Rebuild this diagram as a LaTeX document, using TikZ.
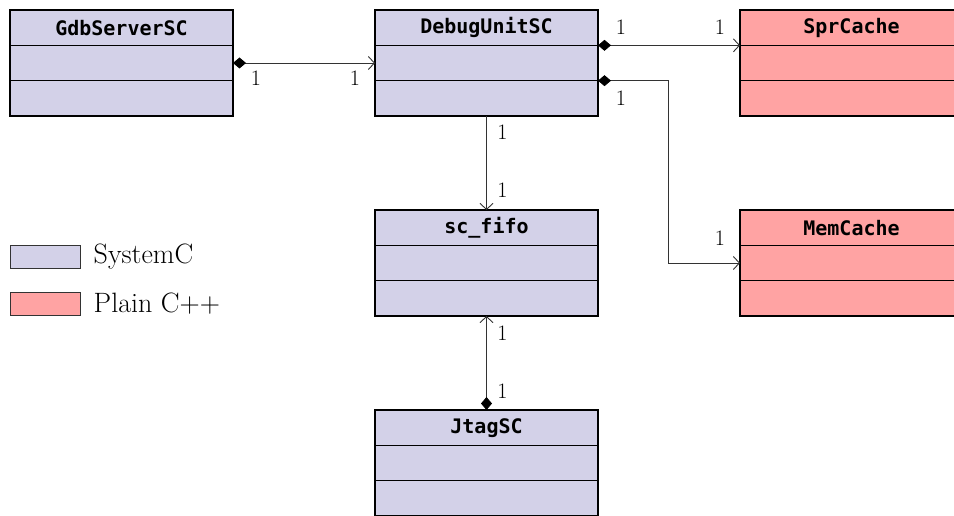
\documentclass[tikz,border=0pt]{standalone}
\usepackage{fontspec}
\newfontfamily\classfont{DejaVu Sans Mono}
\usetikzlibrary{arrows.meta,positioning}

\definecolor{scfill}{RGB}{211,209,232}
\definecolor{cppfill}{RGB}{255,163,163}

\begin{document}
\begin{tikzpicture}[x=1pt, y=-1pt,
  clsbody/.style={
    draw=black, line width=1.2pt,
    fill=#1,
    minimum width=223pt,
    minimum height=35.33pt,
    inner sep=0pt, outer sep=0pt
  },
  clshead/.style={clsbody=#1, font=\fontsize{20}{24}\selectfont\classfont\bfseries},
  assoc/.style={line width=0.9pt, black!80},
  comp/.style={assoc, {Diamond[length=13pt,width=11pt,fill=black,color=black]}-{Straight Barb[length=6pt,width=13pt]}},
  nav/.style={assoc, -{Straight Barb[length=6pt,width=13pt]}},
  mult/.style={font=\fontsize{22}{26}\selectfont, inner sep=0pt, black},
  swatch/.style={draw=black!80, line width=1pt, fill=#1, minimum width=70pt, minimum height=23pt, inner sep=0pt},
  legend/.style={font=\fontsize{28}{32}\selectfont, inner sep=0pt}
]
  \useasboundingbox (0,0) rectangle (954,516);

  % SystemC classes
  \node[clshead=scfill] (gdb) at (121.5,27.67) {GdbServerSC};
  \node[clsbody=scfill, below=0pt of gdb]   (gdb-a) {};
  \node[clsbody=scfill, below=0pt of gdb-a] (gdb-o) {};

  \node[clshead=scfill] (debug) at (486.5,27.67) {DebugUnitSC};
  \node[clsbody=scfill, below=0pt of debug]   (debug-a) {};
  \node[clsbody=scfill, below=0pt of debug-a] (debug-o) {};

  \node[clshead=scfill] (fifo) at (486.5,227.67) {sc\_fifo};
  \node[clsbody=scfill, below=0pt of fifo]   (fifo-a) {};
  \node[clsbody=scfill, below=0pt of fifo-a] (fifo-o) {};

  \node[clshead=scfill] (jtag) at (486.5,427.67) {JtagSC};
  \node[clsbody=scfill, below=0pt of jtag]   (jtag-a) {};
  \node[clsbody=scfill, below=0pt of jtag-a] (jtag-o) {};

  % plain C++ classes
  \node[clshead=cppfill] (spr) at (851.5,27.67) {SprCache};
  \node[clsbody=cppfill, below=0pt of spr]   (spr-a) {};
  \node[clsbody=cppfill, below=0pt of spr-a] (spr-o) {};

  \node[clshead=cppfill] (mem) at (851.5,227.67) {MemCache};
  \node[clsbody=cppfill, below=0pt of mem]   (mem-a) {};
  \node[clsbody=cppfill, below=0pt of mem-a] (mem-o) {};

  % associations
  \draw[comp] (gdb-a.east) -- (debug-a.west)
    node[mult, at start, xshift=23pt, yshift=-15pt] (m1) {1}
    node[mult, at end, xshift=-20pt, yshift=-15pt] (m2) {1};
  \draw[comp] (debug.south east) -- (spr.south west)
    node[mult, at start, xshift=23pt, yshift=18pt] (m3) {1}
    node[mult, at end, xshift=-20pt, yshift=18pt] (m4) {1};
  \draw[comp] (debug-a.south east)
    node[mult, xshift=23pt, yshift=-18pt] (m5) {1}
    -- ++(70,0) |- (mem-a.west)
    node[mult, xshift=-20pt, yshift=25pt] (m6) {1};
  \draw[nav] (debug-o.south) -- (fifo.north)
    node[mult, at start, xshift=16pt, yshift=-16pt] (m7) {1}
    node[mult, at end, xshift=16pt, yshift=20pt] (m8) {1};
  \draw[comp] (jtag.north) -- (fifo-o.south)
    node[mult, at start, xshift=16pt, yshift=19pt] (m9) {1}
    node[mult, at end, xshift=16pt, yshift=-17pt] (m10) {1};

  % legend
  \node[swatch=scfill]  (lsc)  at (45,256.5) {};
  \node[legend, right=13pt of lsc]  (tsc)  {SystemC};
  \node[swatch=cppfill] (lcpp) at (45,303.5) {};
  \node[legend, right=13pt of lcpp] (tcpp) {Plain C++};
\end{tikzpicture}
\end{document}
